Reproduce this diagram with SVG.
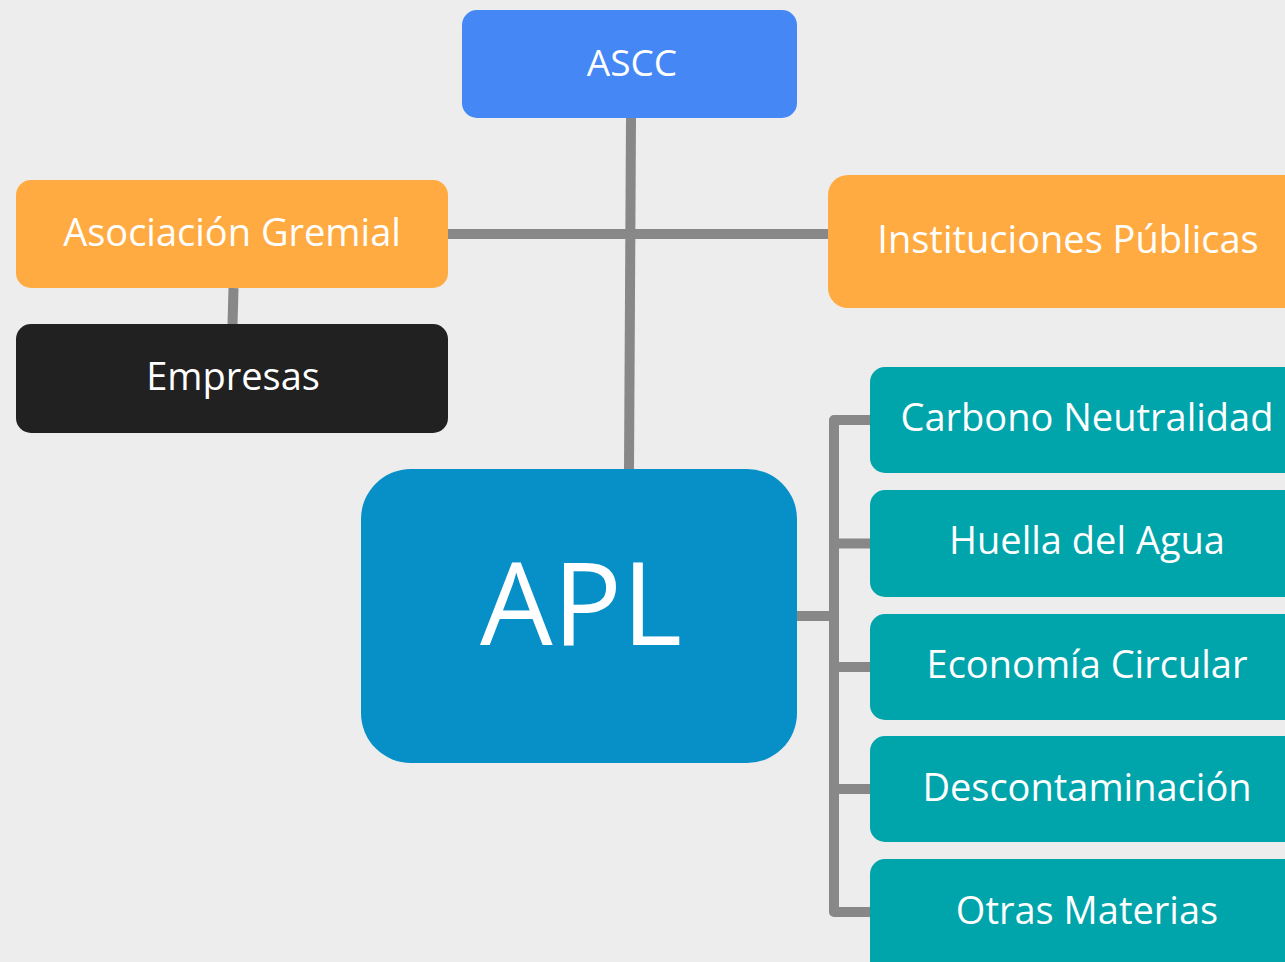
<svg xmlns="http://www.w3.org/2000/svg" width="1285" height="962" viewBox="0 0 1285 962">
<style>
.lbl{font-family:"Open Sans","Noto Sans","Liberation Sans",sans-serif;fill:#ffffff;font-size:38px;text-anchor:middle}
.conn{stroke:#888888;stroke-width:10;fill:none;stroke-linejoin:round}
.org{fill:#ffab42}
.teal{fill:#00a4ab}
</style>
<rect width="1285" height="962" fill="#ededed"/>
<g id="connectors">
<line class="conn" x1="631" y1="118" x2="629" y2="470"/>
<line class="conn" x1="448" y1="234" x2="828" y2="234"/>
<line class="conn" x1="233.5" y1="288" x2="232.5" y2="325"/>
<line class="conn" x1="796" y1="616" x2="834" y2="616"/>
<path class="conn" d="M870,420 H834 V912 H870"/>
<line class="conn" x1="834" y1="543.5" x2="870" y2="543.5"/>
<line class="conn" x1="834" y1="667" x2="870" y2="667"/>
<line class="conn" x1="834" y1="789" x2="870" y2="789"/>
</g>
<g id="ascc">
<rect x="462" y="10" width="335" height="108" rx="15" fill="#4487f5"/>
<text class="lbl" x="632" y="76" style="font-size:37px">ASCC</text>
</g>
<g id="asociacion">
<rect x="16" y="180" width="432" height="108" rx="15" class="org"/>
<text class="lbl" x="232" y="246">Asociación Gremial</text>
</g>
<g id="empresas">
<rect x="16" y="324" width="432" height="109" rx="15" fill="#212121"/>
<text class="lbl" x="233" y="390">Empresas</text>
</g>
<g id="instituciones">
<rect x="828" y="175" width="480" height="133" rx="20" class="org"/>
<text class="lbl" x="1068" y="253">Instituciones Públicas</text>
</g>
<g id="apl">
<rect x="361" y="469" width="436" height="294" rx="50" fill="#078fc8"/>
<text class="lbl" x="581" y="645" style="font-size:115px">APL</text>
</g>
<g id="carbono">
<rect x="870" y="367" width="440" height="106" rx="15" class="teal"/>
<text class="lbl" x="1087" y="431">Carbono Neutralidad</text>
</g>
<g id="huella">
<rect x="870" y="490" width="440" height="107" rx="15" class="teal"/>
<text class="lbl" x="1087" y="554">Huella del Agua</text>
</g>
<g id="economia">
<rect x="870" y="614" width="440" height="106" rx="15" class="teal"/>
<text class="lbl" x="1087" y="678">Economía Circular</text>
</g>
<g id="descontaminacion">
<rect x="870" y="736" width="440" height="106" rx="15" class="teal"/>
<text class="lbl" x="1087" y="801">Descontaminación</text>
</g>
<g id="otras">
<rect x="870" y="859" width="440" height="130" rx="15" class="teal"/>
<text class="lbl" x="1087" y="924">Otras Materias</text>
</g>
</svg>
